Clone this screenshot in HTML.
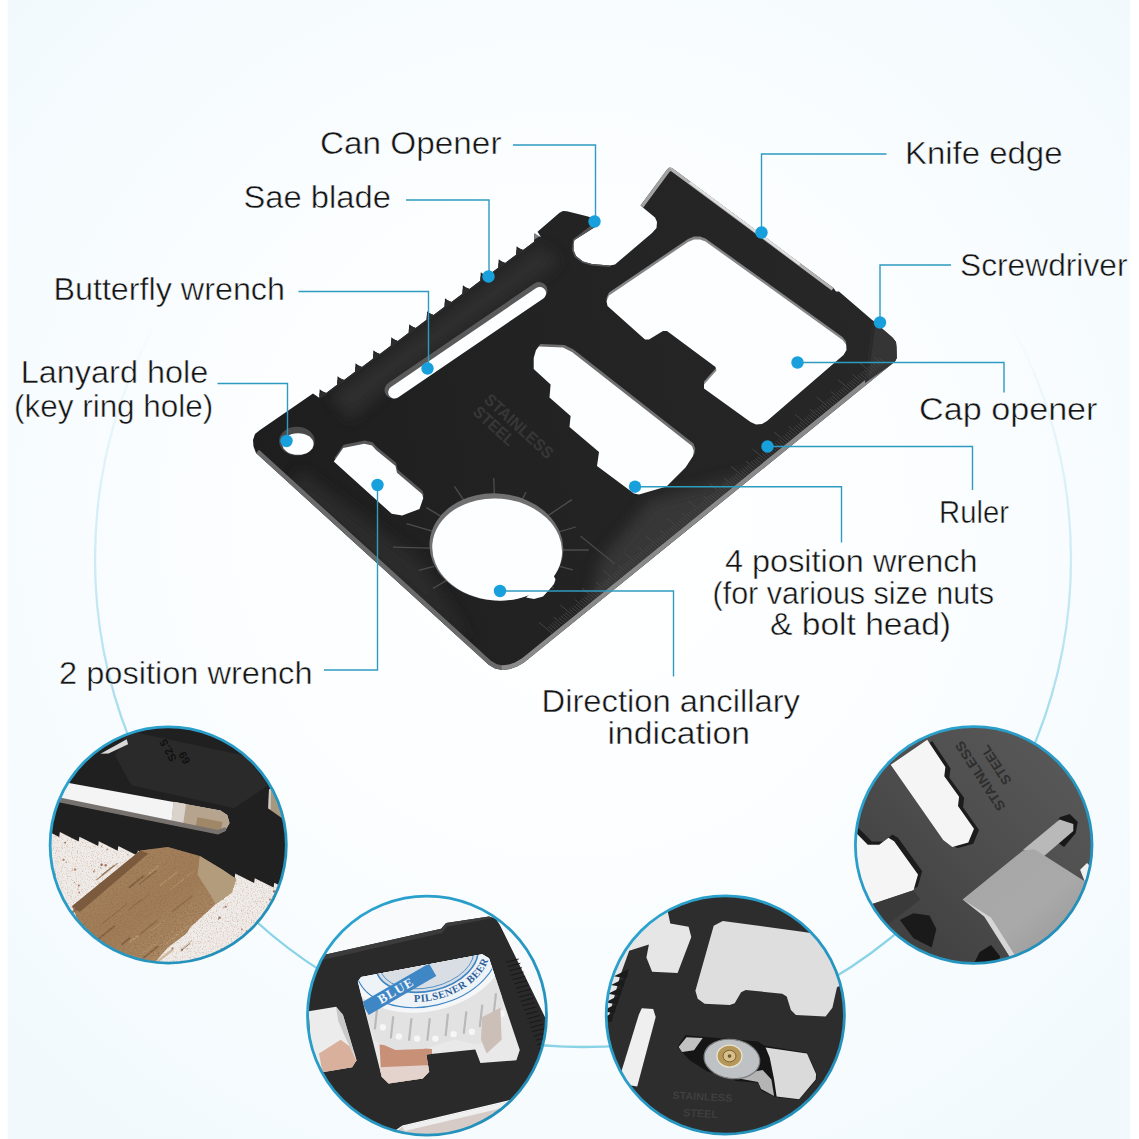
<!DOCTYPE html>
<html><head><meta charset="utf-8"><title>Multi tool card</title>
<style>
html,body{margin:0;padding:0;background:#fff;}
body{width:1139px;height:1139px;overflow:hidden;}
svg{display:block;}
text{font-family:"Liberation Sans",sans-serif;}
</style></head><body>
<svg width="1139" height="1139" viewBox="0 0 1139 1139">
<defs>
<radialGradient id="bg" cx="570" cy="520" r="800" gradientUnits="userSpaceOnUse">
<stop offset="0" stop-color="#ffffff"/><stop offset="0.4" stop-color="#fcfeff"/><stop offset="1" stop-color="#f1f9fd"/>
</radialGradient>
<linearGradient id="arcg" x1="0" y1="71" x2="0" y2="1047" gradientUnits="userSpaceOnUse">
<stop offset="0.25" stop-color="#a6ddec" stop-opacity="0"/><stop offset="0.42" stop-color="#a6ddec" stop-opacity="0.35"/><stop offset="0.56" stop-color="#a3dcec" stop-opacity="0.65"/><stop offset="0.7" stop-color="#9ad9ea" stop-opacity="1"/><stop offset="0.85" stop-color="#8cd4e8" stop-opacity="1"/><stop offset="1" stop-color="#8ad2e6" stop-opacity="1"/>
</linearGradient>
</defs>
<rect width="1139" height="1139" fill="#ffffff"/>
<rect x="7.5" width="1122.5" height="1139" fill="url(#bg)"/>
<circle cx="583" cy="559" r="488" fill="none" stroke="url(#arcg)" stroke-width="2.3"/>

<!-- CARD -->
<g id="card">
<defs><clipPath id="cardclip"><polygon points="256.0,453.0 253.5,446.5 253.0,440.0 255.0,434.0 260.0,430.0 313.0,393.5 319.2,397.8 319.7,389.3 322.7,391.5 326.2,392.9 337.1,384.8 337.6,376.3 340.6,378.5 344.1,379.9 355.0,371.8 355.5,363.3 358.5,365.5 362.0,366.9 372.9,358.8 373.4,350.3 376.4,352.5 379.9,353.9 390.8,345.8 391.3,337.3 394.3,339.5 397.8,340.9 408.7,332.8 409.2,324.3 412.2,326.5 415.7,327.9 426.6,319.8 427.1,311.3 430.1,313.5 433.6,314.9 444.5,306.8 445.0,298.3 448.0,300.5 451.5,301.9 462.4,293.8 462.9,285.3 465.9,287.5 469.4,288.9 480.3,280.8 480.8,272.3 483.8,274.5 487.3,275.9 498.2,267.8 498.7,259.3 501.7,261.5 505.2,262.9 516.1,254.8 516.6,246.3 519.6,248.5 523.1,249.9 534.0,241.8 534.5,233.3 537.5,235.5 541.0,236.9 537.5,231.8 559.5,212.8 563.0,211.0 567.0,211.3 588.0,216.5 594.0,219.0 597.5,223.0 596.0,226.5 574.5,240.0 573.5,243.0 573.5,250.0 576.0,256.0 583.0,261.5 592.0,264.0 610.0,265.5 615.0,264.5 652.0,233.0 656.5,228.0 657.0,222.0 655.0,217.5 640.5,205.5 667.0,169.5 669.5,167.5 672.0,168.0 833.5,288.0 836.0,291.5 839.0,291.5 892.5,337.5 896.0,342.0 896.5,347.0 896.8,358.0 895.0,361.5 524.0,662.5 517.0,666.5 510.0,669.0 502.0,670.0 495.0,668.5 489.0,665.0" /></clipPath>
<linearGradient id="cardg" x1="253" y1="440" x2="896" y2="350" gradientUnits="userSpaceOnUse"><stop offset="0" stop-color="#1e1e1e"/><stop offset="0.5" stop-color="#232323"/><stop offset="1" stop-color="#272727"/></linearGradient>
<filter id="bl" x="-20%" y="-20%" width="140%" height="140%"><feGaussianBlur stdDeviation="7"/></filter>
</defs>
<polygon points="256.0,453.0 253.5,446.5 253.0,440.0 255.0,434.0 260.0,430.0 313.0,393.5 319.2,397.8 319.7,389.3 322.7,391.5 326.2,392.9 337.1,384.8 337.6,376.3 340.6,378.5 344.1,379.9 355.0,371.8 355.5,363.3 358.5,365.5 362.0,366.9 372.9,358.8 373.4,350.3 376.4,352.5 379.9,353.9 390.8,345.8 391.3,337.3 394.3,339.5 397.8,340.9 408.7,332.8 409.2,324.3 412.2,326.5 415.7,327.9 426.6,319.8 427.1,311.3 430.1,313.5 433.6,314.9 444.5,306.8 445.0,298.3 448.0,300.5 451.5,301.9 462.4,293.8 462.9,285.3 465.9,287.5 469.4,288.9 480.3,280.8 480.8,272.3 483.8,274.5 487.3,275.9 498.2,267.8 498.7,259.3 501.7,261.5 505.2,262.9 516.1,254.8 516.6,246.3 519.6,248.5 523.1,249.9 534.0,241.8 534.5,233.3 537.5,235.5 541.0,236.9 537.5,231.8 559.5,212.8 563.0,211.0 567.0,211.3 588.0,216.5 594.0,219.0 597.5,223.0 596.0,226.5 574.5,240.0 573.5,243.0 573.5,250.0 576.0,256.0 583.0,261.5 592.0,264.0 610.0,265.5 615.0,264.5 652.0,233.0 656.5,228.0 657.0,222.0 655.0,217.5 640.5,205.5 667.0,169.5 669.5,167.5 672.0,168.0 833.5,288.0 836.0,291.5 839.0,291.5 892.5,337.5 896.0,342.0 896.5,347.0 896.8,358.0 895.0,361.5 524.0,662.5 517.0,666.5 510.0,669.0 502.0,670.0 495.0,668.5 489.0,665.0" fill="url(#cardg)"/>
<g clip-path="url(#cardclip)">
<polygon points="600.0,560.0 650.0,500.0 760.0,470.0 880.0,385.0 890.0,372.0 585.0,625.0" fill="#3a3a3a" filter="url(#bl)" opacity="0.85"/>
<polygon points="330.0,395.0 540.0,245.0 560.0,262.0 390.0,385.0 350.0,420.0" fill="#333" filter="url(#bl)" opacity="0.8"/>
<polygon points="300.0,470.0 420.0,560.0 470.0,640.0 440.0,620.0 290.0,490.0" fill="#2f2f2f" filter="url(#bl)" opacity="0.8"/>
<polyline points="256,453 489,665 495,668.5 502,670 510,669" fill="none" stroke="#6a6a6a" stroke-width="9"/>
<polyline points="502,670 510,669 517,666.5 524,662.5 895,361.5" fill="none" stroke="#8a8a8a" stroke-width="9"/>

<polyline points="669.5,167.5 672,168 833.5,288" fill="none" stroke="#b4b4b4" stroke-width="6"/>
<polyline points="690,182 800,264" fill="none" stroke="#e2e2e2" stroke-width="3"/>
<polyline points="640.5,205.5 667,169.5 669.5,167.5" fill="none" stroke="#a2a2a2" stroke-width="7"/>
<polygon points="872.9,318.6 893.0,337.5 897.0,342.0 898.0,360.0 865.0,383.0" fill="#353535"/>
<polygon points="872.9,318.6 876.0,321.0 868.0,380.0 865.0,383.0" fill="#2b2b2b"/>
<polyline points="319.7,396.3 534.5,240.3" fill="none" stroke="#2c2c2c" stroke-width="5"/>
<polygon points="530.0,233.0 536.5,231.0 540.0,236.0 533.0,240.5" fill="#808080"/>
<polyline points="597,223 574.5,240 573.5,250 576,256 583,261.5 592,264 610,265.5" fill="none" stroke="#555" stroke-width="3"/>
<line x1="552.1" y1="633.3" x2="539.1" y2="622.4" stroke="#474747" stroke-width="0.9"/><line x1="554.3" y1="631.6" x2="548.1" y2="626.4" stroke="#474747" stroke-width="0.9"/><line x1="556.4" y1="629.8" x2="550.3" y2="624.7" stroke="#474747" stroke-width="0.9"/><line x1="558.6" y1="628.1" x2="552.4" y2="623.0" stroke="#474747" stroke-width="0.9"/><line x1="560.7" y1="626.4" x2="554.5" y2="621.2" stroke="#474747" stroke-width="0.9"/><line x1="562.8" y1="624.6" x2="553.6" y2="617.0" stroke="#474747" stroke-width="0.9"/><line x1="565.0" y1="622.9" x2="558.8" y2="617.8" stroke="#474747" stroke-width="0.9"/><line x1="567.1" y1="621.2" x2="560.9" y2="616.0" stroke="#474747" stroke-width="0.9"/><line x1="569.2" y1="619.4" x2="563.1" y2="614.3" stroke="#474747" stroke-width="0.9"/><line x1="571.4" y1="617.7" x2="565.2" y2="612.6" stroke="#474747" stroke-width="0.9"/><line x1="573.5" y1="616.0" x2="560.4" y2="605.1" stroke="#474747" stroke-width="0.9"/><line x1="575.6" y1="614.2" x2="569.5" y2="609.1" stroke="#474747" stroke-width="0.9"/><line x1="577.8" y1="612.5" x2="571.6" y2="607.4" stroke="#474747" stroke-width="0.9"/><line x1="579.9" y1="610.8" x2="573.7" y2="605.7" stroke="#474747" stroke-width="0.9"/><line x1="582.0" y1="609.0" x2="575.9" y2="603.9" stroke="#474747" stroke-width="0.9"/><line x1="584.2" y1="607.3" x2="574.9" y2="599.6" stroke="#474747" stroke-width="0.9"/><line x1="586.3" y1="605.6" x2="580.2" y2="600.5" stroke="#474747" stroke-width="0.9"/><line x1="588.4" y1="603.8" x2="582.3" y2="598.7" stroke="#474747" stroke-width="0.9"/><line x1="590.6" y1="602.1" x2="584.4" y2="597.0" stroke="#474747" stroke-width="0.9"/><line x1="592.7" y1="600.4" x2="586.6" y2="595.3" stroke="#474747" stroke-width="0.9"/><line x1="594.9" y1="598.6" x2="581.8" y2="587.8" stroke="#474747" stroke-width="0.9"/><line x1="597.0" y1="596.9" x2="590.8" y2="591.8" stroke="#474747" stroke-width="0.9"/><line x1="599.1" y1="595.2" x2="593.0" y2="590.1" stroke="#474747" stroke-width="0.9"/><line x1="601.3" y1="593.4" x2="595.1" y2="588.3" stroke="#474747" stroke-width="0.9"/><line x1="603.4" y1="591.7" x2="597.2" y2="586.6" stroke="#474747" stroke-width="0.9"/><line x1="605.5" y1="590.0" x2="596.3" y2="582.3" stroke="#474747" stroke-width="0.9"/><line x1="607.7" y1="588.2" x2="601.5" y2="583.1" stroke="#474747" stroke-width="0.9"/><line x1="609.8" y1="586.5" x2="603.6" y2="581.4" stroke="#474747" stroke-width="0.9"/><line x1="611.9" y1="584.8" x2="605.8" y2="579.7" stroke="#474747" stroke-width="0.9"/><line x1="614.1" y1="583.0" x2="607.9" y2="577.9" stroke="#474747" stroke-width="0.9"/><line x1="616.2" y1="581.3" x2="603.1" y2="570.4" stroke="#474747" stroke-width="0.9"/><line x1="618.3" y1="579.6" x2="612.2" y2="574.5" stroke="#474747" stroke-width="0.9"/><line x1="620.5" y1="577.8" x2="614.3" y2="572.7" stroke="#474747" stroke-width="0.9"/><line x1="622.6" y1="576.1" x2="616.5" y2="571.0" stroke="#474747" stroke-width="0.9"/><line x1="624.7" y1="574.4" x2="618.6" y2="569.3" stroke="#474747" stroke-width="0.9"/><line x1="626.9" y1="572.6" x2="617.6" y2="565.0" stroke="#474747" stroke-width="0.9"/><line x1="629.0" y1="570.9" x2="622.9" y2="565.8" stroke="#474747" stroke-width="0.9"/><line x1="631.2" y1="569.2" x2="625.0" y2="564.1" stroke="#474747" stroke-width="0.9"/><line x1="633.3" y1="567.4" x2="627.1" y2="562.3" stroke="#474747" stroke-width="0.9"/><line x1="635.4" y1="565.7" x2="629.3" y2="560.6" stroke="#474747" stroke-width="0.9"/><line x1="637.6" y1="564.0" x2="624.5" y2="553.1" stroke="#474747" stroke-width="0.9"/><line x1="639.7" y1="562.2" x2="633.5" y2="557.1" stroke="#474747" stroke-width="0.9"/><line x1="641.8" y1="560.5" x2="635.7" y2="555.4" stroke="#474747" stroke-width="0.9"/><line x1="644.0" y1="558.8" x2="637.8" y2="553.7" stroke="#474747" stroke-width="0.9"/><line x1="646.1" y1="557.1" x2="639.9" y2="551.9" stroke="#474747" stroke-width="0.9"/><line x1="648.2" y1="555.3" x2="639.0" y2="547.6" stroke="#474747" stroke-width="0.9"/><line x1="650.4" y1="553.6" x2="644.2" y2="548.5" stroke="#474747" stroke-width="0.9"/><line x1="652.5" y1="551.9" x2="646.3" y2="546.7" stroke="#474747" stroke-width="0.9"/><line x1="654.6" y1="550.1" x2="648.5" y2="545.0" stroke="#474747" stroke-width="0.9"/><line x1="656.8" y1="548.4" x2="650.6" y2="543.3" stroke="#474747" stroke-width="0.9"/><line x1="658.9" y1="546.7" x2="645.8" y2="535.8" stroke="#474747" stroke-width="0.9"/><line x1="661.0" y1="544.9" x2="654.9" y2="539.8" stroke="#474747" stroke-width="0.9"/><line x1="663.2" y1="543.2" x2="657.0" y2="538.1" stroke="#474747" stroke-width="0.9"/><line x1="665.3" y1="541.5" x2="659.2" y2="536.3" stroke="#474747" stroke-width="0.9"/><line x1="667.5" y1="539.7" x2="661.3" y2="534.6" stroke="#474747" stroke-width="0.9"/><line x1="669.6" y1="538.0" x2="660.4" y2="530.3" stroke="#474747" stroke-width="0.9"/><line x1="671.7" y1="536.3" x2="665.6" y2="531.1" stroke="#474747" stroke-width="0.9"/><line x1="673.9" y1="534.5" x2="667.7" y2="529.4" stroke="#474747" stroke-width="0.9"/><line x1="676.0" y1="532.8" x2="669.8" y2="527.7" stroke="#474747" stroke-width="0.9"/><line x1="678.1" y1="531.1" x2="672.0" y2="525.9" stroke="#474747" stroke-width="0.9"/><line x1="680.3" y1="529.3" x2="667.2" y2="518.4" stroke="#474747" stroke-width="0.9"/><line x1="682.4" y1="527.6" x2="676.2" y2="522.5" stroke="#474747" stroke-width="0.9"/><line x1="684.5" y1="525.9" x2="678.4" y2="520.7" stroke="#474747" stroke-width="0.9"/><line x1="686.7" y1="524.1" x2="680.5" y2="519.0" stroke="#474747" stroke-width="0.9"/><line x1="688.8" y1="522.4" x2="682.6" y2="517.3" stroke="#474747" stroke-width="0.9"/><line x1="690.9" y1="520.7" x2="681.7" y2="513.0" stroke="#474747" stroke-width="0.9"/><line x1="693.1" y1="518.9" x2="686.9" y2="513.8" stroke="#474747" stroke-width="0.9"/><line x1="695.2" y1="517.2" x2="689.1" y2="512.1" stroke="#474747" stroke-width="0.9"/><line x1="697.3" y1="515.5" x2="691.2" y2="510.3" stroke="#474747" stroke-width="0.9"/><line x1="699.5" y1="513.7" x2="693.3" y2="508.6" stroke="#474747" stroke-width="0.9"/><line x1="701.6" y1="512.0" x2="688.5" y2="501.1" stroke="#474747" stroke-width="0.9"/><line x1="703.8" y1="510.3" x2="697.6" y2="505.1" stroke="#474747" stroke-width="0.9"/><line x1="705.9" y1="508.5" x2="699.7" y2="503.4" stroke="#474747" stroke-width="0.9"/><line x1="708.0" y1="506.8" x2="701.9" y2="501.7" stroke="#474747" stroke-width="0.9"/><line x1="710.2" y1="505.1" x2="704.0" y2="499.9" stroke="#474747" stroke-width="0.9"/><line x1="712.3" y1="503.3" x2="703.1" y2="495.6" stroke="#474747" stroke-width="0.9"/><line x1="714.4" y1="501.6" x2="708.3" y2="496.5" stroke="#474747" stroke-width="0.9"/><line x1="716.6" y1="499.9" x2="710.4" y2="494.7" stroke="#474747" stroke-width="0.9"/><line x1="718.7" y1="498.1" x2="712.5" y2="493.0" stroke="#474747" stroke-width="0.9"/><line x1="720.8" y1="496.4" x2="714.7" y2="491.3" stroke="#474747" stroke-width="0.9"/><line x1="723.0" y1="494.7" x2="709.9" y2="483.8" stroke="#474747" stroke-width="0.9"/><line x1="725.1" y1="492.9" x2="718.9" y2="487.8" stroke="#474747" stroke-width="0.9"/><line x1="727.2" y1="491.2" x2="721.1" y2="486.1" stroke="#474747" stroke-width="0.9"/><line x1="729.4" y1="489.5" x2="723.2" y2="484.3" stroke="#474747" stroke-width="0.9"/><line x1="731.5" y1="487.7" x2="725.4" y2="482.6" stroke="#474747" stroke-width="0.9"/><line x1="733.6" y1="486.0" x2="724.4" y2="478.3" stroke="#474747" stroke-width="0.9"/><line x1="735.8" y1="484.3" x2="729.6" y2="479.1" stroke="#474747" stroke-width="0.9"/><line x1="737.9" y1="482.5" x2="731.8" y2="477.4" stroke="#474747" stroke-width="0.9"/><line x1="740.1" y1="480.8" x2="733.9" y2="475.7" stroke="#474747" stroke-width="0.9"/><line x1="742.2" y1="479.1" x2="736.0" y2="473.9" stroke="#474747" stroke-width="0.9"/><line x1="744.3" y1="477.3" x2="731.2" y2="466.5" stroke="#474747" stroke-width="0.9"/><line x1="746.5" y1="475.6" x2="740.3" y2="470.5" stroke="#474747" stroke-width="0.9"/><line x1="748.6" y1="473.9" x2="742.4" y2="468.7" stroke="#474747" stroke-width="0.9"/><line x1="750.7" y1="472.1" x2="744.6" y2="467.0" stroke="#474747" stroke-width="0.9"/><line x1="752.9" y1="470.4" x2="746.7" y2="465.3" stroke="#474747" stroke-width="0.9"/><line x1="755.0" y1="468.7" x2="745.8" y2="461.0" stroke="#474747" stroke-width="0.9"/><line x1="757.1" y1="466.9" x2="751.0" y2="461.8" stroke="#474747" stroke-width="0.9"/><line x1="759.3" y1="465.2" x2="753.1" y2="460.1" stroke="#474747" stroke-width="0.9"/><line x1="761.4" y1="463.5" x2="755.2" y2="458.4" stroke="#474747" stroke-width="0.9"/><line x1="763.5" y1="461.7" x2="757.4" y2="456.6" stroke="#474747" stroke-width="0.9"/><line x1="765.7" y1="460.0" x2="752.6" y2="449.1" stroke="#474747" stroke-width="0.9"/><line x1="767.8" y1="458.3" x2="761.7" y2="453.2" stroke="#474747" stroke-width="0.9"/><line x1="769.9" y1="456.5" x2="763.8" y2="451.4" stroke="#474747" stroke-width="0.9"/><line x1="772.1" y1="454.8" x2="765.9" y2="449.7" stroke="#474747" stroke-width="0.9"/><line x1="774.2" y1="453.1" x2="768.1" y2="448.0" stroke="#474747" stroke-width="0.9"/><line x1="776.4" y1="451.3" x2="767.1" y2="443.7" stroke="#474747" stroke-width="0.9"/><line x1="778.5" y1="449.6" x2="772.3" y2="444.5" stroke="#474747" stroke-width="0.9"/><line x1="780.6" y1="447.9" x2="774.5" y2="442.8" stroke="#474747" stroke-width="0.9"/><line x1="782.8" y1="446.1" x2="776.6" y2="441.0" stroke="#474747" stroke-width="0.9"/><line x1="784.9" y1="444.4" x2="778.7" y2="439.3" stroke="#474747" stroke-width="0.9"/><line x1="787.0" y1="442.7" x2="773.9" y2="431.8" stroke="#474747" stroke-width="0.9"/><line x1="789.2" y1="440.9" x2="783.0" y2="435.8" stroke="#474747" stroke-width="0.9"/><line x1="791.3" y1="439.2" x2="785.1" y2="434.1" stroke="#474747" stroke-width="0.9"/><line x1="793.4" y1="437.5" x2="787.3" y2="432.4" stroke="#474747" stroke-width="0.9"/><line x1="795.6" y1="435.7" x2="789.4" y2="430.6" stroke="#474747" stroke-width="0.9"/><line x1="797.7" y1="434.0" x2="788.5" y2="426.3" stroke="#474747" stroke-width="0.9"/><line x1="799.8" y1="432.3" x2="793.7" y2="427.2" stroke="#474747" stroke-width="0.9"/><line x1="802.0" y1="430.5" x2="795.8" y2="425.4" stroke="#474747" stroke-width="0.9"/><line x1="804.1" y1="428.8" x2="798.0" y2="423.7" stroke="#474747" stroke-width="0.9"/><line x1="806.2" y1="427.1" x2="800.1" y2="422.0" stroke="#474747" stroke-width="0.9"/><line x1="808.4" y1="425.3" x2="795.3" y2="414.5" stroke="#474747" stroke-width="0.9"/><line x1="810.5" y1="423.6" x2="804.4" y2="418.5" stroke="#474747" stroke-width="0.9"/><line x1="812.7" y1="421.9" x2="806.5" y2="416.8" stroke="#474747" stroke-width="0.9"/><line x1="814.8" y1="420.1" x2="808.6" y2="415.0" stroke="#474747" stroke-width="0.9"/><line x1="816.9" y1="418.4" x2="810.8" y2="413.3" stroke="#474747" stroke-width="0.9"/><line x1="819.1" y1="416.7" x2="809.8" y2="409.0" stroke="#474747" stroke-width="0.9"/><line x1="821.2" y1="414.9" x2="815.0" y2="409.8" stroke="#474747" stroke-width="0.9"/><line x1="823.3" y1="413.2" x2="817.2" y2="408.1" stroke="#474747" stroke-width="0.9"/><line x1="825.5" y1="411.5" x2="819.3" y2="406.4" stroke="#474747" stroke-width="0.9"/><line x1="827.6" y1="409.8" x2="821.4" y2="404.6" stroke="#474747" stroke-width="0.9"/><line x1="829.7" y1="408.0" x2="816.6" y2="397.1" stroke="#474747" stroke-width="0.9"/><line x1="831.9" y1="406.3" x2="825.7" y2="401.2" stroke="#474747" stroke-width="0.9"/><line x1="834.0" y1="404.6" x2="827.8" y2="399.4" stroke="#474747" stroke-width="0.9"/><line x1="836.1" y1="402.8" x2="830.0" y2="397.7" stroke="#474747" stroke-width="0.9"/><line x1="838.3" y1="401.1" x2="832.1" y2="396.0" stroke="#474747" stroke-width="0.9"/><line x1="840.4" y1="399.4" x2="831.2" y2="391.7" stroke="#474747" stroke-width="0.9"/><line x1="842.5" y1="397.6" x2="836.4" y2="392.5" stroke="#474747" stroke-width="0.9"/><line x1="844.7" y1="395.9" x2="838.5" y2="390.8" stroke="#474747" stroke-width="0.9"/><line x1="846.8" y1="394.2" x2="840.7" y2="389.0" stroke="#474747" stroke-width="0.9"/><line x1="849.0" y1="392.4" x2="842.8" y2="387.3" stroke="#474747" stroke-width="0.9"/><line x1="851.1" y1="390.7" x2="838.0" y2="379.8" stroke="#474747" stroke-width="0.9"/><line x1="853.2" y1="389.0" x2="847.1" y2="383.8" stroke="#474747" stroke-width="0.9"/><line x1="855.4" y1="387.2" x2="849.2" y2="382.1" stroke="#474747" stroke-width="0.9"/><line x1="857.5" y1="385.5" x2="851.3" y2="380.4" stroke="#474747" stroke-width="0.9"/><line x1="859.6" y1="383.8" x2="853.5" y2="378.6" stroke="#474747" stroke-width="0.9"/><line x1="861.8" y1="382.0" x2="852.5" y2="374.3" stroke="#474747" stroke-width="0.9"/><line x1="863.9" y1="380.3" x2="857.7" y2="375.2" stroke="#474747" stroke-width="0.9"/><line x1="866.0" y1="378.6" x2="859.9" y2="373.4" stroke="#474747" stroke-width="0.9"/><line x1="868.2" y1="376.8" x2="862.0" y2="371.7" stroke="#474747" stroke-width="0.9"/><line x1="870.3" y1="375.1" x2="864.1" y2="370.0" stroke="#474747" stroke-width="0.9"/><line x1="872.4" y1="373.4" x2="859.4" y2="362.5" stroke="#474747" stroke-width="0.9"/><line x1="874.6" y1="371.6" x2="868.4" y2="366.5" stroke="#474747" stroke-width="0.9"/><line x1="876.7" y1="369.9" x2="870.6" y2="364.8" stroke="#474747" stroke-width="0.9"/><line x1="878.8" y1="368.2" x2="872.7" y2="363.0" stroke="#474747" stroke-width="0.9"/><line x1="881.0" y1="366.4" x2="874.8" y2="361.3" stroke="#474747" stroke-width="0.9"/><line x1="883.1" y1="364.7" x2="873.9" y2="357.0" stroke="#474747" stroke-width="0.9"/><line x1="885.3" y1="363.0" x2="879.1" y2="357.8" stroke="#474747" stroke-width="0.9"/>
<line x1="580.4" y1="536.1" x2="614.7" y2="563.8" stroke="#484848" stroke-width="1.3"/>
<line x1="430.8" y1="548.2" x2="392.9" y2="547.1" stroke="#4d4d4d" stroke-width="1.3"/><line x1="434.8" y1="531.9" x2="406.6" y2="523.7" stroke="#4d4d4d" stroke-width="1.3"/><line x1="447.3" y1="520.1" x2="426.5" y2="507.6" stroke="#4d4d4d" stroke-width="1.3"/><line x1="470.5" y1="510.4" x2="454.5" y2="486.4" stroke="#4d4d4d" stroke-width="1.3"/><line x1="495.0" y1="507.6" x2="493.7" y2="478.0" stroke="#4d4d4d" stroke-width="1.3"/><line x1="517.4" y1="509.2" x2="526.0" y2="492.1" stroke="#4d4d4d" stroke-width="1.3"/><line x1="542.8" y1="519.1" x2="571.9" y2="499.6" stroke="#4d4d4d" stroke-width="1.3"/><line x1="556.9" y1="532.5" x2="575.7" y2="527.0" stroke="#4d4d4d" stroke-width="1.3"/><line x1="562.8" y1="550.0" x2="588.8" y2="550.0" stroke="#4d4d4d" stroke-width="1.3"/><line x1="557.7" y1="565.8" x2="572.9" y2="569.8" stroke="#4d4d4d" stroke-width="1.3"/><line x1="434.0" y1="566.3" x2="418.8" y2="570.3" stroke="#4d4d4d" stroke-width="1.3"/><line x1="447.3" y1="579.9" x2="432.9" y2="588.5" stroke="#4d4d4d" stroke-width="1.3"/><line x1="544.3" y1="581.9" x2="553.5" y2="588.1" stroke="#4d4d4d" stroke-width="1.3"/>
<g transform="translate(483,401) rotate(42.5)" font-weight="bold" fill="#373737" font-size="16.5"><text x="0" y="0" textLength="87" lengthAdjust="spacingAndGlyphs">STAINLESS</text><text x="0" y="16.5" textLength="50" lengthAdjust="spacingAndGlyphs">STEEL</text></g>
</g>
<polygon points="606.5,298.0 607.5,303.0 645.0,336.5 649.0,336.5 663.0,328.0 667.0,328.0 715.5,364.0 716.5,367.5 704.0,381.5 704.0,385.5 750.5,419.0 756.0,421.5 762.0,421.0 767.0,418.0 843.5,352.0 846.5,347.0 846.0,341.5 842.5,337.0 705.5,238.5 700.0,236.5 694.0,236.5 688.0,239.0 609.0,292.5" fill="#858585"/>
<polygon points="606.5,301.0 607.5,306.0 645.0,339.5 649.0,339.5 663.0,331.0 667.0,331.0 715.5,367.0 716.5,370.5 704.0,384.5 704.0,388.5 750.5,422.0 756.0,424.5 762.0,424.0 767.0,421.0 843.5,355.0 846.5,350.0 846.0,344.5 842.5,340.0 705.5,241.5 700.0,239.5 694.0,239.5 688.0,242.0 609.0,295.5" fill="#fcfeff"/>
<polygon points="540.5,344.1 564.5,345.1 573.5,349.6 693.5,443.6 695.3,448.6 694.5,453.6 687.0,465.1 668.0,484.1 640.5,492.1 635.5,491.1 598.5,463.6 600.5,449.6 571.0,424.6 572.1,413.6 551.0,395.1 552.1,382.1 535.2,366.6 535.2,355.6 537.5,347.6" fill="#6f6f6f"/>
<polygon points="539.0,346.5 563.0,347.5 572.0,352.0 692.0,446.0 693.8,451.0 693.0,456.0 685.5,467.5 666.5,486.5 639.0,494.5 634.0,493.5 597.0,466.0 599.0,452.0 569.5,427.0 570.6,416.0 549.5,397.5 550.6,384.5 533.7,369.0 533.7,358.0 536.0,350.0" fill="#fcfeff"/>
<polygon points="334.3,458.3 343.7,444.8 364.8,440.6 372.5,442.3 376.5,446.8 396.0,462.8 397.5,469.5 422.5,490.8 423.8,494.8 420.0,505.8 402.7,512.3 392.2,510.6" fill="#585858"/>
<polygon points="333.8,461.5 343.2,448.0 364.3,443.8 372.0,445.5 376.0,450.0 395.5,466.0 397.0,472.7 422.0,494.0 423.3,498.0 419.5,509.0 402.2,515.5 391.7,513.8" fill="#fcfeff"/>
<line x1="393" y1="390" x2="539" y2="290.5" stroke="#5a5a5a" stroke-width="17" stroke-linecap="round"/>
<line x1="394.5" y1="392.3" x2="539.8" y2="293.2" stroke="#fcfeff" stroke-width="12.6" stroke-linecap="round"/>
<ellipse cx="296.9" cy="441.1" rx="17.8" ry="14.3" fill="#4a4a4a"/>
<ellipse cx="298" cy="444" rx="15.6" ry="10.8" fill="#fcfeff"/>
<g transform="rotate(5 496.8 549)"><ellipse cx="496.2" cy="547" rx="67" ry="53.5" fill="#707070"/><ellipse cx="497.2" cy="549.5" rx="65" ry="51" fill="#fcfeff"/></g>
<polygon points="552.0,572.0 555.5,579.5 554.0,584.0 549.0,590.0 543.0,596.5 534.0,599.0 526.0,597.5 540.0,585.0" fill="#fcfeff"/>
</g>

<!-- LEADERS -->
<polyline points="513.0,145.0 595.5,145.0 595.5,221.5" fill="none" stroke="#2e9bc0" stroke-width="1.4"/>
<polyline points="406.0,200.0 489.0,200.0 489.0,276.0" fill="none" stroke="#2e9bc0" stroke-width="1.4"/>
<polyline points="298.5,291.5 428.5,291.5 428.5,368.0" fill="none" stroke="#2e9bc0" stroke-width="1.4"/>
<polyline points="217.5,383.5 287.5,383.5 287.5,441.0" fill="none" stroke="#2e9bc0" stroke-width="1.4"/>
<polyline points="324.0,670.0 377.5,670.0 377.5,485.0" fill="none" stroke="#2e9bc0" stroke-width="1.4"/>
<polyline points="500.0,591.0 673.5,591.0 673.5,676.5" fill="none" stroke="#2e9bc0" stroke-width="1.4"/>
<polyline points="635.0,486.7 841.5,486.7 841.5,542.5" fill="none" stroke="#2e9bc0" stroke-width="1.4"/>
<polyline points="767.5,446.5 972.5,446.5 972.5,490.0" fill="none" stroke="#2e9bc0" stroke-width="1.4"/>
<polyline points="797.5,362.5 1004.0,362.5 1004.0,392.5" fill="none" stroke="#2e9bc0" stroke-width="1.4"/>
<polyline points="951.0,265.0 880.0,265.0 880.0,322.5" fill="none" stroke="#2e9bc0" stroke-width="1.4"/>
<polyline points="886.5,154.0 761.5,154.0 761.5,232.5" fill="none" stroke="#2e9bc0" stroke-width="1.4"/>
<circle cx="594.5" cy="221.5" r="6.2" fill="#18a0dc"/>
<circle cx="488.5" cy="276.5" r="6.2" fill="#18a0dc"/>
<circle cx="427.5" cy="368.5" r="6.2" fill="#18a0dc"/>
<circle cx="286.5" cy="441" r="6.2" fill="#18a0dc"/>
<circle cx="377.5" cy="485" r="6.2" fill="#18a0dc"/>
<circle cx="500" cy="591" r="6.2" fill="#18a0dc"/>
<circle cx="635" cy="486.7" r="6.2" fill="#18a0dc"/>
<circle cx="767.5" cy="446.5" r="6.2" fill="#18a0dc"/>
<circle cx="797.5" cy="362.5" r="6.2" fill="#18a0dc"/>
<circle cx="880" cy="322.5" r="6.2" fill="#18a0dc"/>
<circle cx="761.5" cy="232.5" r="6.2" fill="#18a0dc"/>

<!-- LABELS -->
<g font-size="30.5" fill="#141414" stroke="#fbfeff" stroke-width="0.45">
<text x="320" y="154" textLength="181.5" lengthAdjust="spacingAndGlyphs">Can Opener</text>
<text x="243.5" y="207.5" textLength="147.5" lengthAdjust="spacingAndGlyphs">Sae blade</text>
<text x="53.4" y="300" textLength="231.6" lengthAdjust="spacingAndGlyphs">Butterfly wrench</text>
<text x="20.7" y="382.7" textLength="187.6" lengthAdjust="spacingAndGlyphs">Lanyard hole</text>
<text x="14" y="416.7" textLength="199.3" lengthAdjust="spacingAndGlyphs">(key ring hole)</text>
<text x="905" y="164" textLength="157.5" lengthAdjust="spacingAndGlyphs">Knife edge</text>
<text x="960" y="276" textLength="167.5" lengthAdjust="spacingAndGlyphs">Screwdriver</text>
<text x="919" y="420" textLength="178.5" lengthAdjust="spacingAndGlyphs">Cap opener</text>
<text x="939" y="522.5" textLength="70.0" lengthAdjust="spacingAndGlyphs">Ruler</text>
<text x="725" y="571.5" textLength="252.5" lengthAdjust="spacingAndGlyphs">4 position wrench</text>
<text x="712.5" y="604" textLength="281.5" lengthAdjust="spacingAndGlyphs">(for various size nuts</text>
<text x="770" y="635" textLength="181.0" lengthAdjust="spacingAndGlyphs">&amp; bolt head)</text>
<text x="59" y="684" textLength="253.5" lengthAdjust="spacingAndGlyphs">2 position wrench</text>
<text x="541.5" y="712" textLength="258.5" lengthAdjust="spacingAndGlyphs">Direction ancillary</text>
<text x="607.5" y="743.5" textLength="142.5" lengthAdjust="spacingAndGlyphs">indication</text>
</g>

<!-- CIRCLES -->
<defs>
<clipPath id="cp1"><circle cx="168.2" cy="845" r="117.5"/></clipPath>
<clipPath id="cp2"><circle cx="427.0" cy="1015.6" r="118.9"/></clipPath>
<clipPath id="cp3"><circle cx="725.3" cy="1015.0" r="118.5"/></clipPath>
<clipPath id="cp4"><circle cx="973.7" cy="845" r="117.7"/></clipPath>
<linearGradient id="woodg" x1="0" y1="0" x2="1" y2="1"><stop offset="0" stop-color="#a98562"/><stop offset="0.5" stop-color="#a27c58"/><stop offset="1" stop-color="#b89774"/></linearGradient>
<linearGradient id="ringg" x1="0" y1="0" x2="1" y2="1"><stop offset="0" stop-color="#2ca6d2"/><stop offset="1" stop-color="#228cb6"/></linearGradient>
<linearGradient id="c4g" x1="0" y1="1" x2="1" y2="0"><stop offset="0" stop-color="#3a3a3a"/><stop offset="0.45" stop-color="#4c4c4c"/><stop offset="1" stop-color="#5e5e5e"/></linearGradient>
<linearGradient id="metg" x1="0" y1="0" x2="1" y2="1"><stop offset="0" stop-color="#a6a6a6"/><stop offset="0.5" stop-color="#a9a9a9"/><stop offset="1" stop-color="#8e8e8e"/></linearGradient>
<filter id="grain" x="0" y="0" width="100%" height="100%"><feTurbulence type="fractalNoise" baseFrequency="0.55 0.9" numOctaves="2" seed="4"/><feColorMatrix type="matrix" values="0 0 0 0 0.30  0 0 0 0 0.18  0 0 0 0 0.08  0 0 0 3 -1.25"/><feComposite operator="in" in2="SourceGraphic"/></filter>
<filter id="grain2" x="0" y="0" width="100%" height="100%"><feTurbulence type="fractalNoise" baseFrequency="0.8" numOctaves="2" seed="9"/><feColorMatrix type="matrix" values="0 0 0 0 0.62  0 0 0 0 0.42  0 0 0 0 0.33  0 0 0 2.4 -1.25"/><feComposite operator="in" in2="SourceGraphic"/></filter>
</defs>
<g clip-path="url(#cp1)">
<rect x="40" y="710" width="260" height="260" fill="#eeebe8"/>
<rect x="45" y="820" width="250" height="150" fill="#000" filter="url(#grain2)"/>
<circle cx="127.7" cy="854.6" r="0.6" fill="#b88a70"/><circle cx="178.6" cy="882.5" r="1.2" fill="#b88a70"/><circle cx="101.5" cy="846.2" r="0.6" fill="#a07860"/><circle cx="71.8" cy="890.2" r="0.6" fill="#d4c4b8"/><circle cx="103.6" cy="916.6" r="1.0" fill="#b88a70"/><circle cx="145.2" cy="961.9" r="0.9" fill="#b88a70"/><circle cx="82.0" cy="889.5" r="0.6" fill="#d4c4b8"/><circle cx="124.0" cy="941.1" r="0.6" fill="#9c6a50"/><circle cx="187.1" cy="859.4" r="0.9" fill="#b88a70"/><circle cx="65.1" cy="842.7" r="0.9" fill="#9c6a50"/><circle cx="177.6" cy="936.0" r="1.0" fill="#a07860"/><circle cx="158.8" cy="874.0" r="1.1" fill="#9c6a50"/><circle cx="108.6" cy="909.7" r="0.9" fill="#d4c4b8"/><circle cx="132.4" cy="893.3" r="1.3" fill="#d4c4b8"/><circle cx="78.3" cy="889.4" r="0.6" fill="#c9b0a0"/><circle cx="167.4" cy="840.1" r="1.1" fill="#b88a70"/><circle cx="187.5" cy="948.8" r="0.8" fill="#c9b0a0"/><circle cx="134.0" cy="899.6" r="0.6" fill="#a07860"/><circle cx="72.5" cy="870.1" r="0.5" fill="#b88a70"/><circle cx="218.4" cy="919.1" r="0.7" fill="#a07860"/><circle cx="142.6" cy="921.9" r="1.3" fill="#b88a70"/><circle cx="135.3" cy="914.4" r="0.5" fill="#a07860"/><circle cx="234.4" cy="851.8" r="0.8" fill="#9c6a50"/><circle cx="270.0" cy="899.5" r="0.9" fill="#9c6a50"/><circle cx="181.9" cy="949.8" r="1.2" fill="#a07860"/><circle cx="116.8" cy="889.0" r="1.0" fill="#c9b0a0"/><circle cx="141.3" cy="865.0" r="0.6" fill="#b88a70"/><circle cx="105.7" cy="865.3" r="1.2" fill="#a07860"/><circle cx="93.8" cy="871.7" r="0.8" fill="#9c6a50"/><circle cx="138.6" cy="908.6" r="1.1" fill="#9c6a50"/><circle cx="173.7" cy="915.3" r="0.9" fill="#b88a70"/><circle cx="259.0" cy="958.7" r="0.8" fill="#d4c4b8"/><circle cx="145.8" cy="848.5" r="0.5" fill="#a07860"/><circle cx="66.2" cy="862.1" r="0.6" fill="#9c6a50"/><circle cx="194.2" cy="848.3" r="0.6" fill="#d4c4b8"/><circle cx="74.4" cy="882.3" r="0.6" fill="#b88a70"/><circle cx="99.9" cy="883.9" r="1.3" fill="#c9b0a0"/><circle cx="194.5" cy="896.6" r="1.2" fill="#b88a70"/><circle cx="288.3" cy="895.6" r="0.7" fill="#a07860"/><circle cx="84.6" cy="932.5" r="0.9" fill="#c9b0a0"/><circle cx="216.1" cy="902.1" r="1.3" fill="#9c6a50"/><circle cx="176.8" cy="854.1" r="1.2" fill="#d4c4b8"/><circle cx="232.0" cy="873.8" r="1.1" fill="#b88a70"/><circle cx="112.7" cy="882.7" r="0.8" fill="#9c6a50"/><circle cx="103.5" cy="905.4" r="0.8" fill="#d4c4b8"/><circle cx="103.5" cy="940.5" r="1.1" fill="#9c6a50"/><circle cx="246.4" cy="931.2" r="0.7" fill="#9c6a50"/><circle cx="168.3" cy="930.0" r="1.1" fill="#b88a70"/><circle cx="163.3" cy="860.2" r="1.3" fill="#d4c4b8"/><circle cx="157.3" cy="956.8" r="1.3" fill="#c9b0a0"/><circle cx="137.5" cy="863.7" r="0.9" fill="#9c6a50"/><circle cx="131.1" cy="897.7" r="1.2" fill="#d4c4b8"/><circle cx="165.1" cy="919.9" r="1.2" fill="#b88a70"/><circle cx="78.8" cy="885.5" r="0.9" fill="#9c6a50"/><circle cx="92.8" cy="937.6" r="0.6" fill="#c9b0a0"/><circle cx="277.1" cy="928.8" r="0.8" fill="#a07860"/><circle cx="277.2" cy="929.2" r="1.3" fill="#9c6a50"/><circle cx="56.6" cy="911.8" r="1.1" fill="#a07860"/><circle cx="85.1" cy="942.4" r="1.0" fill="#a07860"/><circle cx="134.1" cy="906.3" r="0.5" fill="#9c6a50"/><circle cx="241.8" cy="929.4" r="0.9" fill="#b88a70"/><circle cx="274.1" cy="891.4" r="1.2" fill="#9c6a50"/><circle cx="100.7" cy="867.7" r="0.9" fill="#c9b0a0"/><circle cx="233.3" cy="877.4" r="0.8" fill="#d4c4b8"/><circle cx="81.5" cy="953.3" r="1.2" fill="#c9b0a0"/><circle cx="209.0" cy="941.0" r="0.8" fill="#d4c4b8"/><circle cx="270.3" cy="900.2" r="0.6" fill="#d4c4b8"/><circle cx="172.5" cy="948.5" r="1.0" fill="#9c6a50"/><circle cx="236.2" cy="854.5" r="0.9" fill="#9c6a50"/><circle cx="224.0" cy="907.3" r="1.0" fill="#c9b0a0"/><circle cx="177.4" cy="897.7" r="1.2" fill="#b88a70"/><circle cx="63.6" cy="859.9" r="1.1" fill="#b88a70"/><circle cx="171.9" cy="908.0" r="0.9" fill="#b88a70"/><circle cx="197.0" cy="900.7" r="0.7" fill="#d4c4b8"/><circle cx="116.5" cy="901.1" r="0.9" fill="#a07860"/><circle cx="109.4" cy="903.0" r="1.2" fill="#c9b0a0"/><circle cx="264.3" cy="861.3" r="0.6" fill="#a07860"/><circle cx="79.2" cy="892.5" r="1.0" fill="#b88a70"/><circle cx="152.8" cy="862.6" r="1.1" fill="#c9b0a0"/><circle cx="265.3" cy="855.1" r="0.6" fill="#c9b0a0"/><circle cx="261.9" cy="960.8" r="1.1" fill="#9c6a50"/><circle cx="72.6" cy="950.0" r="1.3" fill="#9c6a50"/><circle cx="249.8" cy="856.0" r="1.3" fill="#a07860"/><circle cx="146.9" cy="889.8" r="0.8" fill="#c9b0a0"/><circle cx="223.3" cy="837.5" r="0.9" fill="#d4c4b8"/><circle cx="218.8" cy="885.0" r="1.0" fill="#d4c4b8"/><circle cx="172.9" cy="843.4" r="1.3" fill="#9c6a50"/><circle cx="75.1" cy="869.5" r="1.2" fill="#b88a70"/><circle cx="93.6" cy="933.3" r="1.2" fill="#a07860"/><circle cx="212.2" cy="958.0" r="0.6" fill="#a07860"/><circle cx="270.6" cy="909.2" r="0.6" fill="#c9b0a0"/><circle cx="63.8" cy="924.5" r="1.2" fill="#a07860"/><circle cx="114.5" cy="837.2" r="1.1" fill="#b88a70"/><circle cx="70.1" cy="946.3" r="0.7" fill="#b88a70"/><circle cx="79.2" cy="836.5" r="0.8" fill="#d4c4b8"/><circle cx="269.7" cy="915.8" r="0.9" fill="#b88a70"/><circle cx="107.2" cy="849.2" r="0.7" fill="#9c6a50"/><circle cx="93.5" cy="956.2" r="0.9" fill="#c9b0a0"/><circle cx="99.4" cy="892.9" r="0.7" fill="#9c6a50"/><circle cx="242.9" cy="964.3" r="0.5" fill="#b88a70"/><circle cx="225.9" cy="906.6" r="0.9" fill="#9c6a50"/><circle cx="109.0" cy="893.1" r="1.0" fill="#a07860"/><circle cx="181.0" cy="950.5" r="0.7" fill="#d4c4b8"/><circle cx="101.6" cy="864.8" r="1.2" fill="#9c6a50"/><circle cx="219.6" cy="917.7" r="1.3" fill="#a07860"/><circle cx="285.7" cy="943.8" r="0.6" fill="#b88a70"/><circle cx="227.8" cy="868.2" r="0.5" fill="#9c6a50"/><circle cx="209.7" cy="884.5" r="1.0" fill="#d4c4b8"/><circle cx="117.7" cy="866.5" r="0.5" fill="#c9b0a0"/><circle cx="94.5" cy="870.0" r="0.7" fill="#b88a70"/><circle cx="280.8" cy="961.4" r="0.8" fill="#d4c4b8"/><circle cx="58.3" cy="949.7" r="0.8" fill="#9c6a50"/><circle cx="50.3" cy="884.6" r="0.7" fill="#a07860"/><circle cx="207.4" cy="867.3" r="0.6" fill="#b88a70"/><circle cx="246.1" cy="853.7" r="0.5" fill="#d4c4b8"/><circle cx="55.4" cy="874.6" r="0.6" fill="#9c6a50"/><circle cx="279.8" cy="945.9" r="1.0" fill="#9c6a50"/><circle cx="221.8" cy="949.3" r="1.1" fill="#a07860"/><circle cx="223.0" cy="899.2" r="1.1" fill="#c9b0a0"/><circle cx="204.4" cy="840.7" r="1.0" fill="#d4c4b8"/>
<polygon points="40.0,710.0 300.0,710.0 300.0,899.5 313.3,892.1 312.6,896.9 293.8,887.5 293.1,892.3 274.3,882.8 273.6,887.6 254.8,878.2 254.1,883.0 235.3,873.6 234.6,878.4 215.8,869.0 215.1,873.8 196.3,864.4 195.6,869.2 176.8,859.8 176.1,864.6 157.3,855.2 156.6,860.0 137.8,850.6 137.2,855.4 118.3,846.0 117.7,850.8 98.8,841.3 98.2,846.1 79.4,836.7 78.7,841.5 59.9,832.1 59.2,836.9 40.4,827.5 39.7,832.3 40.0,824.1" fill="#202020"/><polygon points="72.0,906.3 140.4,850.4 167.8,847.0 199.8,856.1 222.6,869.8 236.3,878.9 231.7,892.6 215.8,904.0 190.7,926.9 186.1,933.7 167.8,947.4 154.1,963.4 115.3,963.4 85.7,938.3" fill="url(#woodg)"/><line x1="178.4" y1="871.1" x2="160.0" y2="885.7" stroke="#b99a72" stroke-width="1.6" opacity="0.7"/><line x1="87.5" y1="921.1" x2="63.3" y2="940.3" stroke="#86643f" stroke-width="0.9" opacity="0.7"/><line x1="158.4" y1="946.0" x2="143.2" y2="958.0" stroke="#6b4c30" stroke-width="1.6" opacity="0.7"/><line x1="157.1" y1="920.5" x2="139.6" y2="934.5" stroke="#7a5a3c" stroke-width="1.4" opacity="0.7"/><line x1="192.1" y1="940.4" x2="183.0" y2="947.6" stroke="#b99a72" stroke-width="0.9" opacity="0.7"/><line x1="114.4" y1="865.2" x2="101.6" y2="875.3" stroke="#86643f" stroke-width="1.1" opacity="0.7"/><line x1="138.2" y1="935.6" x2="129.4" y2="942.5" stroke="#c2a37c" stroke-width="1.9" opacity="0.7"/><line x1="159.0" y1="865.4" x2="148.7" y2="873.6" stroke="#c2a37c" stroke-width="1.7" opacity="0.7"/><line x1="156.5" y1="870.6" x2="139.1" y2="884.4" stroke="#6b4c30" stroke-width="1.2" opacity="0.7"/><line x1="164.7" y1="920.1" x2="151.3" y2="930.7" stroke="#b99a72" stroke-width="1.2" opacity="0.7"/><line x1="173.2" y1="949.1" x2="154.4" y2="964.1" stroke="#c2a37c" stroke-width="2.2" opacity="0.7"/><line x1="87.7" y1="900.3" x2="63.0" y2="919.9" stroke="#6b4c30" stroke-width="2.2" opacity="0.7"/><line x1="190.3" y1="943.3" x2="181.5" y2="950.3" stroke="#7a5a3c" stroke-width="1.0" opacity="0.7"/><line x1="194.4" y1="870.5" x2="169.7" y2="890.1" stroke="#b99a72" stroke-width="1.2" opacity="0.7"/><line x1="127.3" y1="903.8" x2="101.5" y2="924.4" stroke="#6b4c30" stroke-width="0.8" opacity="0.7"/><line x1="141.8" y1="899.5" x2="128.2" y2="910.3" stroke="#86643f" stroke-width="1.4" opacity="0.7"/><line x1="99.5" y1="888.6" x2="85.4" y2="899.8" stroke="#c2a37c" stroke-width="2.0" opacity="0.7"/><line x1="191.4" y1="923.5" x2="165.0" y2="944.5" stroke="#c2a37c" stroke-width="1.2" opacity="0.7"/><line x1="130.2" y1="937.8" x2="121.4" y2="944.8" stroke="#6b4c30" stroke-width="1.9" opacity="0.7"/><line x1="117.7" y1="863.1" x2="96.4" y2="880.0" stroke="#86643f" stroke-width="1.1" opacity="0.7"/><line x1="144.0" y1="875.7" x2="128.9" y2="887.7" stroke="#6b4c30" stroke-width="2.0" opacity="0.7"/><line x1="157.7" y1="941.8" x2="130.4" y2="963.4" stroke="#b99a72" stroke-width="1.1" opacity="0.7"/><line x1="192.2" y1="895.9" x2="171.9" y2="912.0" stroke="#86643f" stroke-width="1.7" opacity="0.7"/><line x1="91.2" y1="943.0" x2="81.4" y2="950.8" stroke="#6b4c30" stroke-width="1.4" opacity="0.7"/><line x1="114.8" y1="925.8" x2="93.8" y2="942.6" stroke="#6b4c30" stroke-width="1.7" opacity="0.7"/><line x1="149.3" y1="894.4" x2="138.6" y2="902.9" stroke="#86643f" stroke-width="0.9" opacity="0.7"/>
<polygon points="72.0,906.3 140.4,850.4 167.8,847.0 199.8,856.1 222.6,869.8 236.3,878.9 231.7,892.6 215.8,904.0 190.7,926.9 186.1,933.7 167.8,947.4 154.1,963.4 115.3,963.4 85.7,938.3" fill="#000" filter="url(#grain)"/>
<polygon points="199.8,856.1 222.6,869.8 236.3,878.9 231.7,892.6 215.8,904.0 208.9,892.6 197.5,874.4" fill="#b39c7c"/><polygon points="72.0,906.3 140.4,850.4 148.4,853.4 79.9,912.0" fill="#7b5a3d"/><polygon points="126.7,730.5 245.4,755.7 268.3,785.3 234.0,808.2 131.3,785.3 115.3,755.7" fill="#2a2a2a"/><polygon points="53.7,780.3 220.3,810.4 227.2,815.0 229.5,823.0 224.9,831.0 218.1,833.7 53.7,800.4" fill="#f4f4f4"/><polygon points="173.5,801.8 220.3,810.4 227.2,815.0 229.5,823.0 224.9,831.0 218.1,833.7 171.3,824.1" fill="#b7a48e"/><polygon points="173.5,801.8 186.1,804.0 182.7,826.9 171.3,824.1" fill="#d9d3cc"/><polygon points="197.5,817.3 222.6,821.9 220.3,832.8 195.2,828.7" fill="#a08767"/><polygon points="53.7,796.3 218.1,830.1 225.4,826.9 226.3,830.5 218.1,834.6 53.7,801.3" fill="#77726d"/><polygon points="100.5,753.8 126.7,739.2 128.1,744.2 108.5,753.4" fill="#d8d8d8"/><polygon points="269.0,789.4 275.1,787.2 288.8,805.9 288.8,823.0 268.3,808.6" fill="#a89880"/><polygon points="269.0,789.4 271.0,788.5 270.6,809.5 268.3,808.6" fill="#d0ccc8"/><text transform="translate(177.0,759.1) rotate(-118)" font-size="11" font-weight="bold" fill="#101010" letter-spacing="0.3">S2.5</text><text transform="translate(190.7,761.4) rotate(-118)" font-size="11" font-weight="bold" fill="#101010">69</text>
</g>
<circle cx="168.2" cy="845" r="118.1" fill="none" stroke="url(#ringg)" stroke-width="2.8"/>
<g clip-path="url(#cp2)">
<rect x="295" y="880" width="270" height="260" fill="#f9fafb"/>
<polygon points="295.0,962.2 322.4,955.3 441.1,928.8 446.1,922.9 489.0,916.5 495.9,918.8 500.0,925.2 555.0,1037.5 555.0,1092.3 523.3,1096.9 402.3,1125.4 381.7,1140.0 295.0,1140.0" fill="#2a2a2a"/><polygon points="322.4,955.3 441.1,928.8 446.1,922.9 489.0,916.5 493.6,917.9 446.8,926.8 442.2,933.0 322.4,959.9" fill="#3b3b3b"/><polygon points="402.3,1126.5 523.3,1098.0 546.1,1092.3 546.1,1140.0 386.3,1140.0" fill="#d6cbc6"/><polygon points="402.3,1126.5 523.3,1098.0 525.6,1102.6 404.6,1131.1" fill="#efefef"/><line x1="506.2" y1="962.2" x2="518.7" y2="959.0" stroke="#151515" stroke-width="0.9"/><line x1="507.8" y1="966.5" x2="520.3" y2="963.3" stroke="#151515" stroke-width="0.9"/><line x1="509.4" y1="970.9" x2="522.0" y2="967.7" stroke="#151515" stroke-width="0.9"/><line x1="511.0" y1="975.2" x2="523.6" y2="972.0" stroke="#151515" stroke-width="0.9"/><line x1="512.7" y1="979.6" x2="525.2" y2="976.4" stroke="#151515" stroke-width="0.9"/><line x1="514.3" y1="983.9" x2="526.9" y2="980.7" stroke="#151515" stroke-width="0.9"/><line x1="515.9" y1="988.3" x2="528.5" y2="985.1" stroke="#151515" stroke-width="0.9"/><line x1="517.6" y1="992.6" x2="530.1" y2="989.4" stroke="#151515" stroke-width="0.9"/><line x1="519.2" y1="997.0" x2="531.7" y2="993.8" stroke="#151515" stroke-width="0.9"/><line x1="520.8" y1="1001.3" x2="533.4" y2="998.1" stroke="#151515" stroke-width="0.9"/><line x1="522.5" y1="1005.7" x2="535.0" y2="1002.5" stroke="#151515" stroke-width="0.9"/><line x1="524.1" y1="1010.0" x2="536.6" y2="1006.8" stroke="#151515" stroke-width="0.9"/><line x1="525.7" y1="1014.4" x2="538.3" y2="1011.2" stroke="#151515" stroke-width="0.9"/><line x1="527.3" y1="1018.7" x2="539.9" y2="1015.5" stroke="#151515" stroke-width="0.9"/><line x1="529.0" y1="1023.0" x2="541.5" y2="1019.9" stroke="#151515" stroke-width="0.9"/><line x1="530.6" y1="1027.4" x2="543.2" y2="1024.2" stroke="#151515" stroke-width="0.9"/><line x1="532.2" y1="1031.7" x2="544.8" y2="1028.5" stroke="#151515" stroke-width="0.9"/><line x1="533.9" y1="1036.1" x2="546.4" y2="1032.9" stroke="#151515" stroke-width="0.9"/><line x1="535.5" y1="1040.4" x2="548.1" y2="1037.2" stroke="#151515" stroke-width="0.9"/><line x1="537.1" y1="1044.8" x2="549.7" y2="1041.6" stroke="#151515" stroke-width="0.9"/><line x1="538.8" y1="1049.1" x2="551.3" y2="1045.9" stroke="#151515" stroke-width="0.9"/><line x1="540.4" y1="1053.5" x2="552.9" y2="1050.3" stroke="#151515" stroke-width="0.9"/>
<clipPath id="winclip"><polygon points="357.8,981.6 361.2,977.0 482.2,954.2 489.0,958.3 519.8,1050.1 516.4,1060.3 480.4,1063.1 475.3,1049.4 426.3,1054.6 429.2,1071.7 422.8,1078.6 388.6,1083.6 381.7,1076.8" /></clipPath>
<polygon points="357.8,981.6 361.2,977.0 482.2,954.2 489.0,958.3 519.8,1050.1 516.4,1060.3 480.4,1063.1 475.3,1049.4 426.3,1054.6 429.2,1071.7 422.8,1078.6 388.6,1083.6 381.7,1076.8" fill="#e9e9ea"/><g clip-path="url(#winclip)">
<polygon points="379.5,1044.4 432.0,1048.9 432.0,1085.4 381.7,1085.4" fill="#c99078"/><polygon points="379.5,1067.2 432.0,1064.9 432.0,1085.4 381.7,1085.4" fill="#e3d3cc"/><polygon points="360.1,987.3 500.4,966.7 502.7,1007.8 498.2,1026.1 489.0,1039.8 477.6,1044.4 454.8,1039.8 422.8,1048.9 395.4,1050.1 374.9,1040.9 366.9,1017.0" fill="#e2e2e3"/><line x1="374.9" y1="1028.4" x2="377.2" y2="1007.8" stroke="#b9b9bb" stroke-width="2.2" stroke-linecap="round"/><circle cx="382.9" cy="1027.2" r="3.2" fill="#f6f6f6"/><line x1="390.9" y1="1037.5" x2="393.2" y2="1017.0" stroke="#b9b9bb" stroke-width="2.2" stroke-linecap="round"/><circle cx="398.9" cy="1036.4" r="3.2" fill="#f6f6f6"/><line x1="409.1" y1="1039.8" x2="411.4" y2="1019.2" stroke="#b9b9bb" stroke-width="2.2" stroke-linecap="round"/><circle cx="417.1" cy="1038.6" r="3.2" fill="#f6f6f6"/><line x1="427.4" y1="1039.8" x2="429.7" y2="1019.2" stroke="#b9b9bb" stroke-width="2.2" stroke-linecap="round"/><circle cx="435.4" cy="1038.6" r="3.2" fill="#f6f6f6"/><line x1="445.7" y1="1035.2" x2="447.9" y2="1014.7" stroke="#b9b9bb" stroke-width="2.2" stroke-linecap="round"/><circle cx="453.6" cy="1034.1" r="3.2" fill="#f6f6f6"/><line x1="463.9" y1="1032.9" x2="466.2" y2="1012.4" stroke="#b9b9bb" stroke-width="2.2" stroke-linecap="round"/><circle cx="471.9" cy="1031.8" r="3.2" fill="#f6f6f6"/><line x1="479.9" y1="1026.1" x2="482.2" y2="1005.5" stroke="#b9b9bb" stroke-width="2.2" stroke-linecap="round"/><circle cx="487.9" cy="1025.0" r="3.2" fill="#f6f6f6"/><line x1="493.6" y1="1014.7" x2="495.9" y2="994.1" stroke="#b9b9bb" stroke-width="2.2" stroke-linecap="round"/><circle cx="501.6" cy="1013.5" r="3.2" fill="#f6f6f6"/>
<polygon points="482.2,1017.0 500.4,1007.8 501.6,1039.8 486.7,1053.5 481.0,1039.8" fill="#cbbfb8"/><ellipse cx="426.7" cy="958.1" rx="80" ry="53" fill="#f4f6f8" transform="rotate(-13 426.7 958.1)"/>
<g transform="rotate(-13 426.7 958.1)"><ellipse cx="426.7" cy="958.1" rx="72" ry="48" fill="#eef3f8" stroke="#3f86c4" stroke-width="1.1"/><ellipse cx="426.7" cy="958.1" rx="52" ry="33" fill="#d9dee4" stroke="#3f86c4" stroke-width="1.6"/><ellipse cx="426.7" cy="958.1" rx="48" ry="29.5" fill="none" stroke="#3f86c4" stroke-width="0.8"/><path id="capArc" d="M402.7,997.5 A64,42.5 0 0 0 490.5,954.4" fill="none"/><text style="font-family:'Liberation Serif',serif" font-size="10.5" font-weight="bold" fill="#2d5f9a" letter-spacing="0.5"><textPath href="#capArc" startOffset="2">PILSENER BEER</textPath></text></g>
<g transform="translate(374.9,1009.7) rotate(-30)"><rect x="-8" y="-13" width="78" height="14.5" fill="#3f86c4"/><text x="8" y="-1.8" style="font-family:'Liberation Serif',serif" font-size="13" font-weight="bold" fill="#f4f8fc" letter-spacing="1">BLUE</text></g>
</g>
<polygon points="308.7,1011.3 336.1,1006.7 342.9,1014.7 356.6,1060.3 352.1,1067.2 322.4,1072.2 311.0,1053.5" fill="#ececec"/><polygon points="319.0,1053.5 340.7,1039.8 349.8,1046.6 356.2,1060.3 352.1,1067.2 322.4,1072.2" fill="#d8b09c"/><polygon points="336.1,1007.8 342.9,1014.7 354.8,1055.8 346.4,1039.8 338.4,1021.5" fill="#c9c9c9"/></g>
<circle cx="427.0" cy="1015.6" r="119.5" fill="none" stroke="url(#ringg)" stroke-width="2.8"/>
<g clip-path="url(#cp3)">
<rect x="595" y="880" width="270" height="260" fill="#2d2d2d"/>
<polygon points="595.0,880.0 667.6,880.0 667.6,910.8 670.3,923.4 688.6,926.8 691.3,937.1 677.6,973.1 652.1,971.8 646.4,957.6 648.9,944.4 629.2,950.8 620.1,975.9 608.7,1017.0 595.0,1026.1" fill="#e6e6e6"/><polygon points="628.8,969.0 613.9,976.3 626.5,978.6" fill="#1b1b1b"/><polygon points="625.8,977.7 611.0,985.0 623.5,987.3" fill="#1b1b1b"/><polygon points="622.8,986.4 608.0,993.7 620.6,996.0" fill="#1b1b1b"/><polygon points="619.9,995.0 605.0,1002.4 617.6,1004.6" fill="#1b1b1b"/><polygon points="616.9,1003.7 602.1,1011.0 614.6,1013.3" fill="#1b1b1b"/><polygon points="613.9,1012.4 599.1,1019.7 611.7,1022.0" fill="#1b1b1b"/>
<polygon points="713.7,925.7 722.8,921.1 800.4,931.4 855.0,939.4 855.0,978.2 837.0,987.3 832.4,1007.8 825.6,1016.5 795.9,1015.1 790.9,1010.1 786.7,996.4 782.2,993.7 745.7,990.0 741.1,992.3 734.7,1003.3 729.7,1005.1 704.6,1003.7 697.7,998.7 695.4,990.7" fill="#dedede"/><polygon points="641.8,1008.3 653.2,1009.0 655.7,1017.0 637.2,1086.6 617.8,1083.2 638.8,1014.7" fill="#efefef"/><polygon points="677.4,1047.1 685.3,1035.3 758.0,1041.6 764.3,1045.6 807.0,1052.7 816.5,1073.2 816.5,1079.5 799.1,1100.1 775.4,1096.9 761.1,1090.6 758.0,1082.7 735.9,1081.1 728.0,1076.4 707.4,1071.6 690.0,1060.6" fill="#151515"/><polygon points="678.6,1047.1 686.5,1037.2 702.7,1038.1 694.0,1050.3 682.1,1051.9" fill="#c2c2c2"/><polygon points="728.0,1076.4 758.0,1081.9 761.1,1089.0 774.1,1096.1 771.4,1079.5 762.7,1070.1" fill="#b4b4b4"/><polygon points="765.6,1047.6 807.0,1053.5 816.1,1074.0 815.7,1079.5 799.1,1099.3 776.6,1096.6 774.1,1079.5 769.7,1057.4" fill="#dadada"/><ellipse cx="731.9" cy="1059.0" rx="28" ry="19.5" fill="#bfc2c4" stroke="#7d7f82" stroke-width="1.2" transform="rotate(8 731.9 1059.0)"/><ellipse cx="729.5" cy="1056.1" rx="12.5" ry="11" fill="#b5975a" stroke="#e8e2d2" stroke-width="1.4"/><ellipse cx="729.5" cy="1056.1" rx="6.5" ry="5.8" fill="#d8c08a" stroke="#7a6232" stroke-width="1"/><circle cx="729.5" cy="1056.1" r="1.8" fill="#6e5a30"/>
<text transform="translate(672.2,1098.7) rotate(3)" font-size="10.5" font-weight="bold" fill="#3f3f3f" textLength="60" lengthAdjust="spacingAndGlyphs">STAINLESS</text><text transform="translate(682.9,1116.3) rotate(3)" font-size="11" font-weight="bold" fill="#3e3e3e" textLength="35" lengthAdjust="spacingAndGlyphs">STEEL</text>
</g>
<circle cx="725.3" cy="1015.0" r="119.1" fill="none" stroke="url(#ringg)" stroke-width="2.8"/>
<g clip-path="url(#cp4)">
<rect x="845" y="710" width="270" height="260" fill="url(#c4g)"/>
<polygon points="895.7,766.2 932.2,741.0 950.5,768.4 949.3,777.6 964.2,798.1 963.0,807.2 979.0,830.1 973.3,843.8 957.3,848.3 948.2,841.5" fill="#1c1c1c"/><polygon points="890.7,764.8 927.2,739.7 945.4,767.1 944.3,776.2 959.1,796.7 958.0,805.9 974.0,828.7 968.3,842.4 952.3,847.0 943.2,840.1" fill="#f5f5f5"/><polygon points="849.1,820.9 860.5,830.1 871.9,841.5 883.3,841.5 892.5,834.6 898.2,838.1 922.2,871.2 917.6,887.1 876.5,900.8 849.1,912.2" fill="#1c1c1c"/><polygon points="845.0,824.1 856.4,833.3 867.8,844.7 879.2,844.7 888.4,837.8 894.1,841.3 918.0,874.4 913.5,890.3 872.4,904.0 845.0,915.4" fill="#f5f5f5"/><polygon points="872.4,904.0 913.5,890.3 920.3,899.5 890.7,922.3 879.2,929.1" fill="#3a3a3a"/><polygon points="899.8,920.0 913.5,913.2 929.5,915.4 936.3,929.1 931.7,947.4 913.5,938.3" fill="#1a1a1a"/><polygon points="979.7,952.0 991.1,945.1 1000.2,956.5 995.7,967.9 972.8,965.7" fill="#161616"/><polygon points="1059.6,817.3 1069.8,813.9 1077.8,821.9 1075.6,833.3 1064.1,847.0 1050.4,837.8" fill="#181818"/><polygon points="1023.1,849.7 1059.6,819.6 1073.3,824.1 1073.3,831.0 1041.8,857.9" fill="#b9b9b9"/><polygon points="962.6,899.5 1023.1,850.4 1034.5,849.2 1084.7,881.2 1105.0,892.6 1105.0,970.0 1013.9,961.1 986.5,915.4" fill="url(#metg)"/><polygon points="962.6,899.5 968.3,902.9 991.1,917.7 1018.5,961.1 1013.9,963.4 984.2,916.6" fill="#d6d6d6"/><polygon points="1080.1,869.8 1087.0,862.9 1093.8,869.8 1096.1,888.1 1084.7,881.2" fill="#f0f0f0"/><text transform="translate(1005.9,807.0) rotate(237)" font-size="13.5" font-weight="bold" fill="#2f2f2f" textLength="80" lengthAdjust="spacingAndGlyphs">STAINLESS</text><text transform="translate(1011.9,781.0) rotate(237)" font-size="13.5" font-weight="bold" fill="#2f2f2f" textLength="44" lengthAdjust="spacingAndGlyphs">STEEL</text>
</g>
<circle cx="973.7" cy="845" r="118.3" fill="none" stroke="url(#ringg)" stroke-width="2.8"/>

</svg>
</body></html>
